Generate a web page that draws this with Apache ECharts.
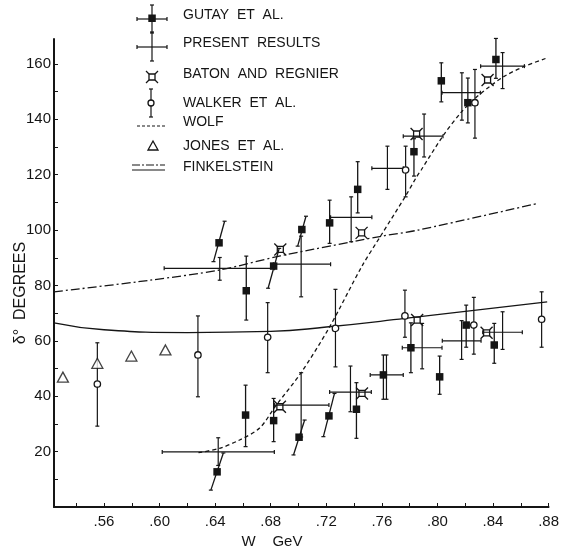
<!DOCTYPE html>
<html><head><meta charset="utf-8">
<script src="https://cdn.jsdelivr.net/npm/echarts@6/dist/echarts.min.js"></script>
<style>html,body{margin:0;padding:0;background:#fff}#c{width:562px;height:556px}</style>
</head><body><div id="c"></div>
<script>
// ---------- data ----------
const xTickLabels = [0.56, 0.60, 0.64, 0.68, 0.72, 0.76, 0.80, 0.84, 0.88];
const xMinorTicks = [0.54, 0.56, 0.58, 0.60, 0.62, 0.64, 0.66, 0.68, 0.70, 0.72, 0.74, 0.76, 0.78, 0.80, 0.82, 0.84, 0.86, 0.88];
const yTickLabels = [20, 40, 60, 80, 100, 120, 140, 160];
const yMinorTicks = [10, 20, 30, 40, 50, 60, 70, 80, 90, 100, 110, 120, 130, 140, 150, 160];

// GUTAY ET AL.
const gutayW  = [0.6428, 0.6414, 0.6619, 0.6624, 0.6821, 0.6821, 0.7004, 0.7024, 0.7219, 0.7224, 0.7417, 0.7426, 0.7611, 0.7809, 0.7831, 0.8016, 0.8028, 0.8207, 0.8219, 0.8409, 0.8421];
const gutayD  = [95.4, 12.7, 33.2, 78.1, 31.2, 87.0, 25.2, 100.2, 32.9, 102.6, 35.3, 114.7, 47.7, 57.5, 128.3, 47.0, 153.9, 65.7, 146.0, 58.5, 161.6];
const gutayLo = [88.6, 6.1, 21.8, 67.5, 23.6, 79.0, 18.8, 94.2, 25.4, 95.2, 24.8, 106.2, 38.9, 48.5, 119.5, 40.7, 146.3, 57.7, 138.7, 51.9, 154.8];
const gutayHi = [103.2, 19.5, 44.0, 90.6, 39.2, 93.4, 31.4, 105.0, 41.0, 110.8, 44.9, 124.7, 54.9, 66.5, 133.0, 54.5, 160.4, 72.9, 154.9, 66.3, 169.2];
// W shift of the top end of each (tilted) error bar
const gutayTilt = [0.004, 0.0045, 0, 0, 0, 0.004, 0.004, 0.003, 0.004, 0, 0, 0, 0, 0, 0, 0, 0, 0, 0, 0, 0];

// PRESENT RESULTS
const presW   = [0.6422, 0.6433, 0.7019, 0.7019, 0.7374, 0.7379, 0.7633, 0.7640, 0.7890, 0.7904, 0.8174, 0.8176, 0.8469, 0.8469];
const presD   = [19.9, 86.2, 36.8, 87.7, 41.5, 104.6, 47.7, 122.3, 57.5, 133.9, 60.0, 149.6, 63.1, 159.2];
const presWlo = [0.6019, 0.6033, 0.6826, 0.6819, 0.7224, 0.7231, 0.7516, 0.7528, 0.7747, 0.7754, 0.8035, 0.8033, 0.8326, 0.8311];
const presWhi = [0.6826, 0.6826, 0.7219, 0.7231, 0.7524, 0.7528, 0.7754, 0.7754, 0.8033, 0.8040, 0.8314, 0.8309, 0.8611, 0.8626];
const presDlo = [15.0, 81.9, 25.3, 75.9, 34.4, 95.8, 38.9, 114.7, 49.9, 126.4, 53.3, 139.7, 56.9, 151.1];
const presDhi = [25.0, 90.1, 48.5, 97.8, 50.9, 112.0, 54.9, 130.3, 66.3, 141.9, 67.3, 156.8, 70.5, 164.1];

// BATON AND REGNIER
const batonW = [0.6869, 0.7454, 0.7850, 0.8361, 0.6866, 0.7457, 0.7854, 0.8354];
const batonD = [93.0, 99.0, 134.7, 154.2, 36.2, 41.0, 67.5, 62.9];

// WALKER ET AL.
const walkerW  = [0.5552, 0.6276, 0.6778, 0.7266, 0.7766, 0.8262, 0.8750, 0.7771, 0.8270];
const walkerD  = [44.4, 54.9, 61.3, 64.5, 69.0, 65.7, 67.8, 121.7, 146.0];
const walkerLo = [29.2, 39.8, 48.5, 50.6, 61.3, 55.2, 57.7, 112.0, 133.2];
const walkerHi = [59.3, 69.0, 73.8, 78.6, 78.3, 75.7, 77.7, 130.3, 158.0];

// JONES ET AL.
const jonesW = [0.5304, 0.5552, 0.5797, 0.6042];
const jonesD = [46.9, 51.9, 54.5, 56.7];

// WOLF (dashed curve)
const wolfW = [0.628, 0.6433, 0.6576, 0.672, 0.684, 0.7016, 0.7219, 0.7455, 0.7599, 0.7767, 0.785, 0.7883, 0.804, 0.817, 0.827, 0.838, 0.848, 0.862, 0.878];
const wolfD = [19.6, 21.2, 24.2, 28.5, 36.8, 48.3, 64.6, 86.8, 98.5, 112.0, 119.2, 121.7, 134.0, 142.5, 147.5, 152.0, 155.5, 159.0, 162.0];

// FINKELSTEIN (dash-dot upper curve, solid lower curve)
const finkUpW = [0.524, 0.5933, 0.6433, 0.6861, 0.711, 0.7599, 0.7861, 0.8719];
const finkUpD = [77.7, 81.9, 85.6, 90.6, 93.1, 97.8, 100.0, 109.6];
const finkLoW = [0.524, 0.560, 0.620, 0.680, 0.720, 0.7766, 0.879];
const finkLoD = [66.5, 64.0, 63.0, 63.4, 65.0, 68.1, 74.1];

// ---------- drawing ----------
const INK = '#151515';
const FONT = '"Liberation Sans", Arial, sans-serif';
const zip = (...arrs) => arrs[0].map((_, i) => arrs.map(a => a[i]));

function ln(x1, y1, x2, y2, lw) {
  return {type: 'line', shape: {x1, y1, x2, y2}, style: {stroke: INK, lineWidth: lw || 1.2}};
}

function gutayItem(params, api) {
  const w = api.value(0), d = api.value(1), lo = api.value(2), hi = api.value(3), t = api.value(4);
  const c = api.coord([w, d]);
  const a = api.coord([w - t, lo]), b = api.coord([w + t, hi]);
  const s = 7.5;
  return {type: 'group', children: [
    ln(a[0], a[1], b[0], b[1], 1.3),
    ln(a[0] - 2, a[1], a[0] + 2, a[1]),
    ln(b[0] - 2, b[1], b[0] + 2, b[1]),
    {type: 'rect', shape: {x: c[0] - s / 2, y: c[1] - s / 2, width: s, height: s}, style: {fill: INK}}
  ]};
}

function presItem(params, api) {
  const w = api.value(0), d = api.value(1);
  const l = api.coord([api.value(2), d]), r = api.coord([api.value(3), d]);
  const bo = api.coord([w, api.value(4)]), to = api.coord([w, api.value(5)]);
  return {type: 'group', children: [
    ln(l[0], l[1], r[0], r[1]),
    ln(l[0], l[1] - 2, l[0], l[1] + 2),
    ln(r[0], r[1] - 2, r[0], r[1] + 2),
    ln(bo[0], bo[1], to[0], to[1]),
    ln(bo[0] - 2, bo[1], bo[0] + 2, bo[1]),
    ln(to[0] - 2, to[1], to[0] + 2, to[1])
  ]};
}

function walkerItem(params, api) {
  const w = api.value(0);
  const c = api.coord([w, api.value(1)]);
  const bo = api.coord([w, api.value(2)]), to = api.coord([w, api.value(3)]);
  return {type: 'group', children: [
    ln(bo[0], bo[1], to[0], to[1]),
    ln(bo[0] - 2, bo[1], bo[0] + 2, bo[1]),
    ln(to[0] - 2, to[1], to[0] + 2, to[1]),
    {type: 'circle', shape: {cx: c[0], cy: c[1], r: 3.2}, style: {fill: '#fff', stroke: INK, lineWidth: 1.3}}
  ]};
}

function batonShape(x, y) {
  return [
    {type: 'rect', shape: {x: x - 3, y: y - 3, width: 6, height: 6}, style: {fill: 'none', stroke: INK, lineWidth: 1.3}},
    ln(x - 3, y - 3, x - 6, y - 6, 1.3), ln(x + 3, y - 3, x + 6, y - 6, 1.3),
    ln(x - 3, y + 3, x - 6, y + 6, 1.3), ln(x + 3, y + 3, x + 6, y + 6, 1.3)
  ];
}
function batonItem(params, api) {
  const c = api.coord([api.value(0), api.value(1)]);
  return {type: 'group', children: batonShape(c[0], c[1])};
}

// ---------- legend (drawn) ----------
const LX = 152, TX = 183;
const legendEls = [];
function txt(y, s) {
  legendEls.push({type: 'text', x: TX, y: y, style: {text: s, font: '14px ' + FONT, fill: INK, textVerticalAlign: 'middle'}});
}
// Gutay
legendEls.push(ln(137, 19, 167, 19), ln(137, 17, 137, 21), ln(167, 17, 167, 21), ln(LX, 5, LX, 33), ln(LX - 2, 5, LX + 2, 5), ln(LX - 2, 33, LX + 2, 33),
  {type: 'rect', shape: {x: LX - 3.7, y: 14.5, width: 7.5, height: 7.5}, style: {fill: INK}});
txt(15, 'GUTAY  ET  AL.');
// Present
legendEls.push(ln(137, 47, 167, 47), ln(137, 45, 137, 49), ln(167, 45, 167, 49), ln(LX, 32, LX, 61), ln(LX - 2, 32, LX + 2, 32), ln(LX - 2, 61, LX + 2, 61));
txt(43, 'PRESENT  RESULTS');
// Baton
batonShape(LX, 77).forEach(e => legendEls.push(e));
txt(74, 'BATON  AND  REGNIER');
// Walker
legendEls.push(ln(151, 89, 151, 117), ln(149, 89, 153, 89), ln(149, 117, 153, 117),
  {type: 'circle', shape: {cx: 151, cy: 103, r: 3}, style: {fill: '#fff', stroke: INK, lineWidth: 1.3}});
txt(103, 'WALKER  ET  AL.');
// Wolf
legendEls.push({type: 'line', shape: {x1: 137, y1: 126, x2: 165, y2: 126}, style: {stroke: INK, lineWidth: 1.2, lineDash: [3, 2]}});
txt(122, 'WOLF');
// Jones
legendEls.push({type: 'polygon', shape: {points: [[153, 141], [148, 150], [158, 150]]}, style: {fill: '#fff', stroke: INK, lineWidth: 1.3}});
txt(146, 'JONES  ET  AL.');
// Finkelstein
legendEls.push({type: 'line', shape: {x1: 132, y1: 165, x2: 165, y2: 165}, style: {stroke: INK, lineWidth: 1.2, lineDash: [8, 2, 2, 2]}},
  {type: 'line', shape: {x1: 132, y1: 170, x2: 165, y2: 170}, style: {stroke: INK, lineWidth: 1.2}});
txt(167, 'FINKELSTEIN');

// axis titles
legendEls.push({type: 'text', x: 21, y: 293, rotation: Math.PI / 2,
  style: {text: 'δ°  DEGREES', font: '16px ' + FONT, fill: INK, textAlign: 'center', textVerticalAlign: 'middle'}});
legendEls.push({type: 'text', x: 272, y: 542,
  style: {text: 'W    GeV', font: '15px ' + FONT, fill: INK, textAlign: 'center', textVerticalAlign: 'middle'}});

const chart = echarts.init(document.getElementById('c'));
chart.setOption({
  animation: false,
  backgroundColor: '#fff',
  grid: {left: 54, right: 10, top: 39, bottom: 49},
  xAxis: {
    type: 'value', min: 0.524, max: 0.88,
    axisLine: {lineStyle: {color: INK, width: 2}},
    axisTick: {inside: true, length: 4, customValues: xMinorTicks, lineStyle: {color: INK, width: 1}},
    axisLabel: {customValues: xTickLabels, margin: 7, color: INK, fontSize: 15, fontFamily: FONT,
      formatter: v => v.toFixed(2).replace(/^0/, '')},
    splitLine: {show: false}
  },
  yAxis: {
    type: 'value', min: 0, max: 169,
    axisLine: {show: true, lineStyle: {color: INK, width: 2}},
    axisTick: {show: true, inside: true, length: 4, customValues: yMinorTicks, lineStyle: {color: INK, width: 1}},
    axisLabel: {customValues: yTickLabels, margin: 3, color: INK, fontSize: 15, fontFamily: FONT},
    splitLine: {show: false}
  },
  graphic: {elements: legendEls},
  series: [
    {name: 'FINKELSTEIN', type: 'line', data: zip(finkUpW, finkUpD), showSymbol: false, smooth: 0.3,
      lineStyle: {color: INK, width: 1.3, type: [9, 3, 2, 3]}, z: 1},
    {name: 'FINKELSTEIN ', type: 'line', data: zip(finkLoW, finkLoD), showSymbol: false, smooth: 0.5,
      lineStyle: {color: INK, width: 1.3}, z: 1},
    {name: 'WOLF', type: 'line', data: zip(wolfW, wolfD), showSymbol: false, smooth: 0.3,
      lineStyle: {color: INK, width: 1.3, type: [4, 3]}, z: 1},
    {name: 'PRESENT RESULTS', type: 'custom', renderItem: presItem,
      data: zip(presW, presD, presWlo, presWhi, presDlo, presDhi), encode: {x: 0, y: 1}, z: 2},
    {name: 'GUTAY ET AL.', type: 'custom', renderItem: gutayItem,
      data: zip(gutayW, gutayD, gutayLo, gutayHi, gutayTilt), encode: {x: 0, y: 1}, z: 3},
    {name: 'WALKER ET AL.', type: 'custom', renderItem: walkerItem,
      data: zip(walkerW, walkerD, walkerLo, walkerHi), encode: {x: 0, y: 1}, z: 3},
    {name: 'BATON AND REGNIER', type: 'custom', renderItem: batonItem,
      data: zip(batonW, batonD), encode: {x: 0, y: 1}, z: 4},
    {name: 'JONES ET AL.', type: 'scatter', data: zip(jonesW, jonesD), symbol: 'triangle', symbolSize: [11, 10],
      itemStyle: {color: '#fff', borderColor: INK, borderWidth: 1.3}, z: 4}
  ]
});
</script></body></html>
